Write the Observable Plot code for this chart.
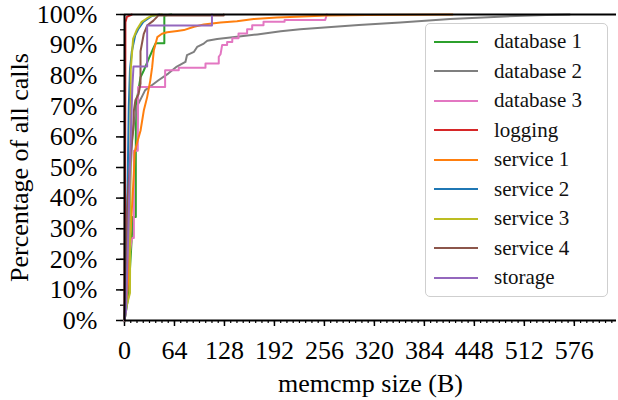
<!DOCTYPE html>
<html>
<head>
<meta charset="utf-8">
<script src="https://cdn.jsdelivr.net/npm/d3@7"></script>
<script src="https://cdn.jsdelivr.net/npm/@observablehq/plot@0.6"></script>
<style>
  html, body { margin: 0; padding: 0; background: #fff; }
  #wrap { position: relative; width: 618px; height: 400px; font-family: "Liberation Serif", serif; }
  #legend { position: absolute; left: 425px; top: 23px; width: 183px; height: 274px; box-sizing: border-box;
    border: 1.5px solid #cfcfcf; border-radius: 5px; background: rgba(255,255,255,0.85); padding-top: 3px; }
  .row { display: flex; align-items: center; height: 29.5px; font-size: 21px; color: #111; }
  .row svg { margin-left: 8px; margin-right: 16px; }
</style>
</head>
<body>
<div id="wrap"></div>
<script>
const seriesNames = ["database 1","database 2","database 3","logging","service 1","service 2","service 3","service 4","storage"];
const seriesColors = ["#2ca02c","#7f7f7f","#e377c2","#d62728","#ff7f0e","#1f77b4","#bcbd22","#8c564b","#9467bd"];

const db1X = [0, 5, 10, 10.5, 14.5, 14.5, 17, 20.5, 24.7, 31, 37.5, 40, 51, 51, 60];
const db1Y = [0, 8, 30, 33.8, 33.8, 70, 74, 79.5, 81.7, 85.5, 89.3, 90.6, 90.6, 99.7, 100];

const db2X = [0, 2, 5, 8, 10, 12, 16, 18, 22, 26.5, 35, 43.5, 56, 67, 78, 80, 89, 93, 101.5, 106, 118.6, 144, 170, 200, 225, 300, 353, 417, 480, 540, 570];
const db2Y = [0, 10, 30, 50, 60, 64, 70, 71, 73, 75.3, 76.9, 78.5, 80.7, 83, 84.5, 86.7, 87.8, 89.4, 90.5, 91.4, 92, 92.7, 93.5, 94.5, 95.2, 96.6, 97.4, 98.5, 99.3, 99.8, 100];

const db3X = [0, 3, 9, 10, 12, 12, 17, 17.5, 52, 52, 69.5, 69.5, 103.7, 103.7, 120.7, 120.7, 123, 125, 131.4, 131.4, 138, 138, 146, 146, 157, 157, 163.5, 163.5, 178, 178, 205, 205, 257, 259];
const db3Y = [0, 15, 26, 27, 27, 55.5, 55.5, 76.3, 76.3, 81.8, 81.8, 82.6, 82.6, 84, 84, 86.2, 87, 90, 90, 91, 91, 92.2, 92.2, 93.8, 93.8, 95.2, 95.2, 96.5, 96.5, 97.6, 97.6, 98.2, 98.2, 100];

const logX = [0, 0.8, 1.2, 3, 9.4];
const logY = [0, 50, 97.5, 99.2, 100];

const s1X = [0, 4, 8, 12, 13, 16, 20.5, 24.7, 29, 33, 35.4, 37.5, 42, 48, 54.6, 67.5, 76, 89, 101.5, 123, 144, 165.5, 195, 204, 259, 310, 420];
const s1Y = [0, 10, 30, 48, 55, 58, 62, 68.6, 73, 78.4, 82.8, 88.2, 92.6, 93.7, 94.2, 94.6, 94.9, 96, 96.7, 97.4, 97.8, 98.5, 99, 99.1, 99.7, 99.8, 100];

const s2X = [0, 2, 4, 5.5, 7, 9.4, 13.7, 18, 24, 35, 45];
const s2Y = [0, 20, 45, 70, 82, 88, 93.2, 95.4, 97.6, 99.5, 100];

const s3X = [0, 3, 7, 7.5, 8, 11, 15.7, 22, 28.5, 35, 48];
const s3Y = [0, 5, 9, 40, 82, 92, 95, 97.6, 98.7, 99.6, 100];

const s4X = [0, 2, 4, 8, 11, 12, 14, 18, 20.5, 20.5, 24.7, 29, 37, 43.5, 127, 127];
const s4Y = [0, 20, 40, 55, 62, 68.6, 72, 74, 77.4, 88, 93.7, 96.4, 98, 99.7, 99.7, 100];

const stX = [0, 2, 5, 8, 10, 11.5, 29, 29, 112, 112];
const stY = [0, 3, 30, 60, 76, 83, 83, 96.4, 96.4, 100];

const xTicks = [0, 64, 128, 192, 256, 320, 384, 448, 512, 576];
const yTicks = [0, 10, 20, 30, 40, 50, 60, 70, 80, 90, 100];
const xMinor = d3.range(0, 631, 8);
const yMinor = d3.range(0, 101, 5);

const seriesXs = [db1X, db2X, db3X, logX, s1X, s2X, s3X, s4X, stX];
const seriesYs = [db1Y, db2Y, db3Y, logY, s1Y, s2Y, s3Y, s4Y, stY];
const rows = seriesNames.flatMap((name, i) => seriesXs[i].map((x, j) => ({series: name, x, y: seriesYs[i][j]})));

const chart = Plot.plot({
  width: 618, height: 400,
  marginLeft: 124, marginRight: 2, marginTop: 14, marginBottom: 80,
  style: {fontFamily: "Liberation Serif, serif", fontSize: "22px", color: "#000", background: "#fff"},
  x: {domain: [0, 630]},
  y: {domain: [0, 100]},
  color: {domain: seriesNames, range: seriesColors},
  marks: [
    Plot.axisX({ticks: xMinor, tickSize: 3, tickFormat: () => "", label: null, strokeWidth: 1.2}),
    Plot.axisX({ticks: xTicks, tickSize: 6, tickPadding: 14, strokeWidth: 1.5, label: "memcmp size (B)", labelAnchor: "center", labelArrow: "none", labelOffset: 71, fontSize: 26}),
    Plot.axisY({ticks: yMinor, tickSize: 4, tickFormat: () => "", label: null, strokeWidth: 1.2}),
    Plot.axisY({ticks: yTicks, tickSize: 8, tickPadding: 19, strokeWidth: 1.5, tickFormat: d => d + "%", label: "Percentage of all calls", labelAnchor: "center", labelArrow: "none", labelOffset: 115, fontSize: 26}),
    Plot.line(rows, {x: "x", y: "y", z: "series", stroke: "series", strokeWidth: 2}),
    Plot.ruleY([100], {stroke: "#000", strokeWidth: 2}),
    Plot.ruleX([0], {stroke: "#000", strokeWidth: 2}),
    Plot.ruleY([0], {stroke: "#000", strokeWidth: 2})
  ]
});

const wrap = document.getElementById("wrap");
wrap.appendChild(chart);

const legend = document.createElement("div");
legend.id = "legend";
seriesNames.forEach((name, i) => {
  const row = document.createElement("div");
  row.className = "row";
  row.innerHTML = `<svg width="44" height="4"><line x1="0" x2="44" y1="2" y2="2" stroke="${seriesColors[i]}" stroke-width="2"/></svg><span>${name}</span>`;
  legend.appendChild(row);
});
wrap.appendChild(legend);
</script>
</body>
</html>
